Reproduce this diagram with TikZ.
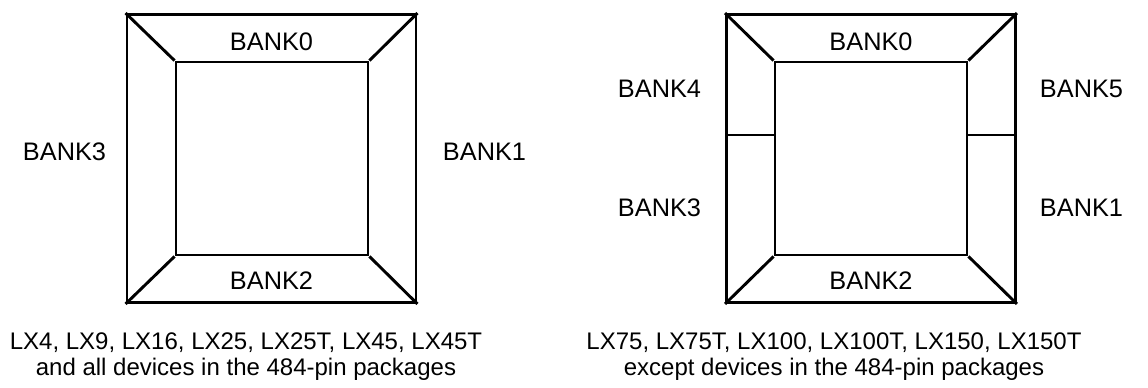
\documentclass[tikz,border=0pt]{standalone}
\usepackage{fontspec}
\setmainfont{Liberation Sans}
\begin{document}
\begin{tikzpicture}[
        x=0.75pt, y=-0.75pt,
        every node/.style={font=\fontsize{19}{22}\selectfont},
        outerbox/.style={rectangle, draw=black, line width=2.2pt, minimum width=216.75pt, minimum height=216pt, inner sep=0pt},
        innerbox/.style={rectangle, draw=black, line width=2.2pt, minimum width=144pt, minimum height=144.75pt, inner sep=0pt},
        edge/.style={draw=black, line width=2.2pt},
        caption/.style={align=center, font=\fontsize{18}{19.5}\selectfont}
        ]
        \useasboundingbox (0,0) rectangle (1148,387);

        % Left Package: four banks
        \node[outerbox] (outerL) at (271.5, 158.5) {};
        \node[innerbox] (innerL) at (272, 158.5) {};
        \node (bank0L) at (271.5, 42) {BANK0};
        \node (bank2L) at (271.5, 281) {BANK2};
        \node (bank3L) at (64.5, 152) {BANK3};
        \node (bank1L) at (484.5, 152) {BANK1};
        \node[caption] (captionL) at (246, 357) {LX4, LX9, LX16, LX25, LX25T, LX45, LX45T\\and all devices in the 484-pin packages};

        % Right Package: six banks
        \node[outerbox] (outerR) at (871, 158.5) {};
        \node[innerbox] (innerR) at (871, 158.5) {};
        \node (bank0R) at (871, 42) {BANK0};
        \node (bank2R) at (871, 281) {BANK2};
        \node (bank4R) at (659.5, 88.5) {BANK4};
        \node (bank3R) at (659.5, 208) {BANK3};
        \node (bank5R) at (1081.5, 88.5) {BANK5};
        \node (bank1R) at (1081.5, 208) {BANK1};
        \node[caption] (captionR) at (834, 357) {LX75, LX75T, LX100, LX100T, LX150, LX150T\\except devices in the 484-pin packages};

        % Corner Diagonals
        \foreach \pkg in {L, R} {
            \foreach \corner in {north west, north east, south west, south east}
                \draw[edge] (outer\pkg.\corner) -- (inner\pkg.\corner);
        }

        % Side Dividers
        \coordinate (split) at (0, 135);
        \draw[edge] (outerR.west |- split) -- (innerR.west |- split);
        \draw[edge] (innerR.east |- split) -- (outerR.east |- split);

    \end{tikzpicture}
\end{document}
